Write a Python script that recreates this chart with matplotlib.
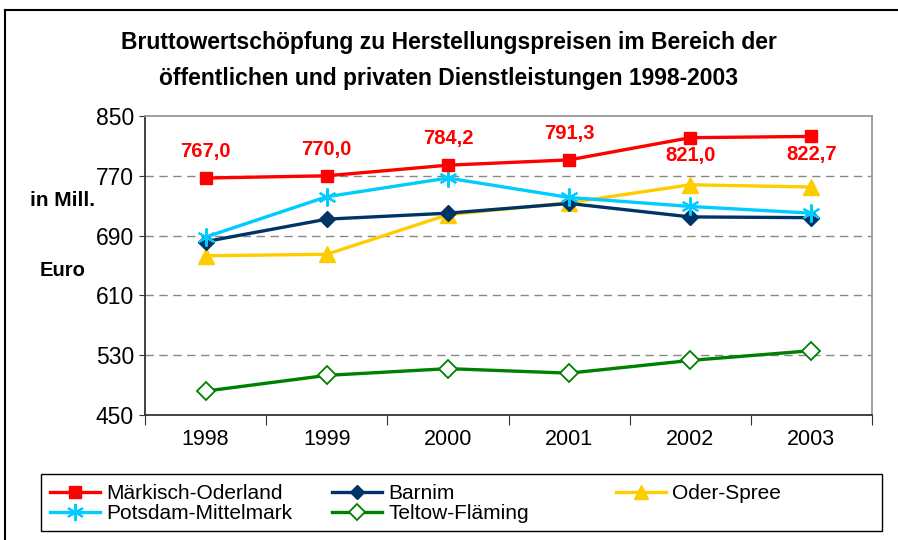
import matplotlib
matplotlib.use('Agg')
import matplotlib.pyplot as plt
from matplotlib.lines import Line2D
from matplotlib.patches import Rectangle

plt.rcParams['font.family'] = ['Liberation Sans', 'DejaVu Sans']

# data (Mill. Euro)
years = ['1998', '1999', '2000', '2001', '2002', '2003']
maerkisch_oderland = [767.0, 770.0, 784.2, 791.3, 821.0, 822.7]
barnim = [682, 712, 720, 733, 715, 714]
oder_spree = [663, 665, 718, 734, 758, 755]
potsdam_mittelmark = [688, 742, 767, 741, 729, 720]
teltow_flaeming = [482, 503, 512, 506, 523, 536]
mo_label_above = [True, True, True, True, False, False]

fig = plt.figure(figsize=(8.98, 5.4), dpi=100)
ax = fig.add_axes([145 / 898, 1 - 415 / 540, 727 / 898, 299 / 540])

x = list(range(len(years)))
lw = 2.4
h_mo, = ax.plot(x, maerkisch_oderland, color='#FF0000', lw=lw, marker='s', ms=9,
                label='Märkisch-Oderland', zorder=5)
h_ba, = ax.plot(x, barnim, color='#003366', lw=lw, marker='D', ms=8,
                label='Barnim', zorder=4)
h_os, = ax.plot(x, oder_spree, color='#FFCC00', lw=lw, marker='^', ms=11,
                label='Oder-Spree', zorder=3)
h_pm, = ax.plot(x, potsdam_mittelmark, color='#00CCFF', lw=lw, marker=(6, 2, 0), ms=13,
                mew=1.5, label='Potsdam-Mittelmark', zorder=4)
h_tf, = ax.plot(x, teltow_flaeming, color='#008000', lw=lw, marker='D', ms=9,
                mfc='white', mew=1.3, label='Teltow-Fläming', zorder=4)

for xi, v, above in zip(x, maerkisch_oderland, mo_label_above):
    off = 19 if above else -13
    ax.annotate(f'{v:.1f}'.replace('.', ','), (xi, v), xytext=(0, off),
                textcoords='offset points', ha='center', va='center',
                color='#FF0000', fontsize=14.5, fontweight='bold')

ax.set_xlim(-0.5, 5.5)
ax.set_ylim(450, 850)
ax.set_yticks([450, 530, 610, 690, 770, 850])
ax.set_xticks([i - 0.5 for i in range(7)])
ax.set_xticklabels([])
ax.set_xticks(x, minor=True)
ax.set_xticklabels(years, minor=True)
ax.tick_params(axis='x', which='major', length=7, direction='out', color='#333333')
ax.tick_params(axis='x', which='minor', length=0, pad=10, labelsize=15.5)
ax.tick_params(axis='y', length=4, direction='out', color='#333333', labelsize=16.5, pad=4)

for yv in [530, 610, 690, 770]:
    ax.axhline(yv, color='#888888', lw=1, ls=(0, (6, 4)), zorder=1)

ax.spines['left'].set_color('#333333')
ax.spines['bottom'].set_color('#333333')
ax.spines['top'].set_color('#999999')
ax.spines['right'].set_color('#999999')
for s in ax.spines.values():
    s.set_linewidth(1.3)

fig.text(0.5, 1 - 43 / 540, 'Bruttowertschöpfung zu Herstellungspreisen im Bereich der',
         ha='center', va='center', fontsize=16.5, fontweight='bold')
fig.text(0.5, 1 - 79 / 540, 'öffentlichen und privaten Dienstleistungen 1998-2003',
         ha='center', va='center', fontsize=16.5, fontweight='bold')
fig.text(30 / 898, 1 - 200 / 540, 'in Mill.', ha='left', va='center',
         fontsize=15, fontweight='bold')
fig.text(40 / 898, 1 - 270 / 540, 'Euro', ha='left', va='center',
         fontsize=14.5, fontweight='bold')

# outer chart frame (left and top edges visible)
fig.add_artist(Line2D([5 / 898, 5 / 898], [0, 1 - 9.5 / 540], color='black', lw=1.5))
fig.add_artist(Line2D([5 / 898, 1], [1 - 9.5 / 540, 1 - 9.5 / 540], color='black', lw=1.5))

# legend box drawn by hand, entries in two legends so the third column sits further right
fig.add_artist(Rectangle((41 / 898, 1 - 531 / 540), 841 / 898, 57 / 540,
                         transform=fig.transFigure, fill=False, ec='black', lw=1.0))
leg_kw = dict(fontsize=15, frameon=False, handlelength=2.4, handletextpad=0.3,
              borderpad=0, labelspacing=0.05, borderaxespad=0, markerscale=0.95)
left_handles = [h_mo, h_pm, h_ba, h_tf]
fig.legend(handles=left_handles, labels=[h.get_label() for h in left_handles],
           loc='upper left', bbox_to_anchor=(50 / 898, 1 - 484 / 540),
           ncol=2, columnspacing=1.9, **leg_kw)
fig.legend(handles=[h_os], labels=[h_os.get_label()],
           loc='upper left', bbox_to_anchor=(616 / 898, 1 - 484 / 540), **leg_kw)

fig.savefig('out.png', dpi=100)
